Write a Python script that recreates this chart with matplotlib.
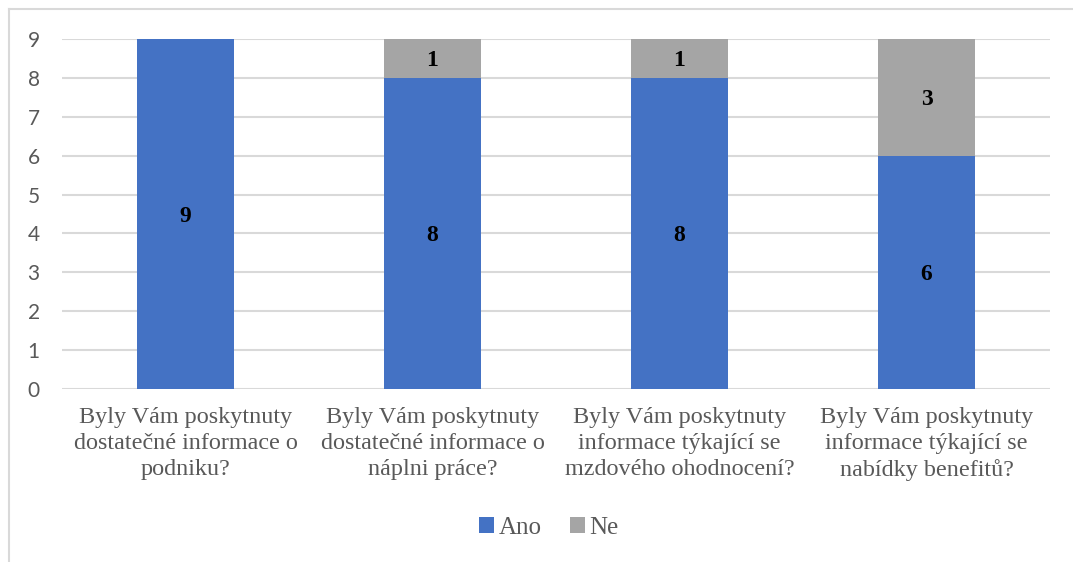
import matplotlib
matplotlib.use("Agg")
import matplotlib.pyplot as plt
from matplotlib.lines import Line2D
from matplotlib.patches import Patch

categories = [
    "Byly Vám poskytnuty\ndostatečné informace o\npodniku?",
    "Byly Vám poskytnuty\ndostatečné informace o\nnáplni práce?",
    "Byly Vám poskytnuty\ninformace týkající se\nmzdového ohodnocení?",
    "Byly Vám poskytnuty\ninformace týkající se\nnabídky benefitů?",
]
ano = [9, 8, 8, 6]
ne = [0, 1, 1, 3]
series_names = ["Ano", "Ne"]
y_ticks = [0, 1, 2, 3, 4, 5, 6, 7, 8, 9]

BLUE = "#4472C4"
GRAY = "#A5A5A5"
GRID = "#D9D9D9"
TEXT_GRAY = "#595959"
SERIF = "Liberation Serif"

fig = plt.figure(figsize=(10.73, 5.62), dpi=100)
ax = fig.add_axes([62 / 1073, 1 - 389 / 562, 988 / 1073, 350 / 562])

x = list(range(len(categories)))
width = 0.393
b1 = ax.bar(x, ano, width, color=BLUE, zorder=3)
b2 = ax.bar(x, ne, width, bottom=ano, color=GRAY, zorder=3)

for rect, v in zip(b1, ano):
    if v > 0:
        ax.text(rect.get_x() + rect.get_width() / 2, rect.get_y() + v / 2, str(v),
                ha="center", va="center_baseline", fontsize=17, fontweight="bold",
                family=SERIF, color="black", zorder=4)
for rect, v, base in zip(b2, ne, ano):
    if v > 0:
        ax.text(rect.get_x() + rect.get_width() / 2, base + v / 2, str(v),
                ha="center", va="center_baseline", fontsize=17, fontweight="bold",
                family=SERIF, color="black", zorder=4)

ax.set_xlim(-0.5, len(categories) - 0.5)
ax.set_ylim(0, 9)
ax.set_yticks(y_ticks)
ax.set_yticklabels([str(t) for t in y_ticks], family="Lato", fontsize=15, color=TEXT_GRAY)
ax.yaxis.grid(True, color=GRID, linewidth=1.5, zorder=0)
ax.set_axisbelow(True)
ax.tick_params(axis="y", length=0, pad=16)
ax.tick_params(axis="x", length=0, pad=13)
ax.set_xticks(x)
ax.set_xticklabels(categories, family=SERIF, fontsize=17.4, color=TEXT_GRAY,
                   linespacing=1.3)
for s in ax.spines.values():
    s.set_visible(False)

handles = [Patch(facecolor=BLUE, edgecolor="none"), Patch(facecolor=GRAY, edgecolor="none")]
leg = fig.legend(handles, series_names, loc="center", bbox_to_anchor=(549 / 1073, 1 - 528 / 562),
                 ncol=2, frameon=False, prop={"family": SERIF, "size": 18},
                 handlelength=0.6, handleheight=0.6,
                 handletextpad=0.2, columnspacing=1.1)
for t in leg.get_texts():
    t.set_fontfamily(SERIF)
    t.set_color(TEXT_GRAY)

# chart frame
fig.add_artist(Line2D([9 / 1073, 1.0], [1 - 9 / 562, 1 - 9 / 562],
                      transform=fig.transFigure, color=GRID, linewidth=1.5))
fig.add_artist(Line2D([9 / 1073, 9 / 1073], [0.0, 1 - 9 / 562],
                      transform=fig.transFigure, color=GRID, linewidth=1.5))

fig.savefig("out.png", dpi=100, facecolor="white")
